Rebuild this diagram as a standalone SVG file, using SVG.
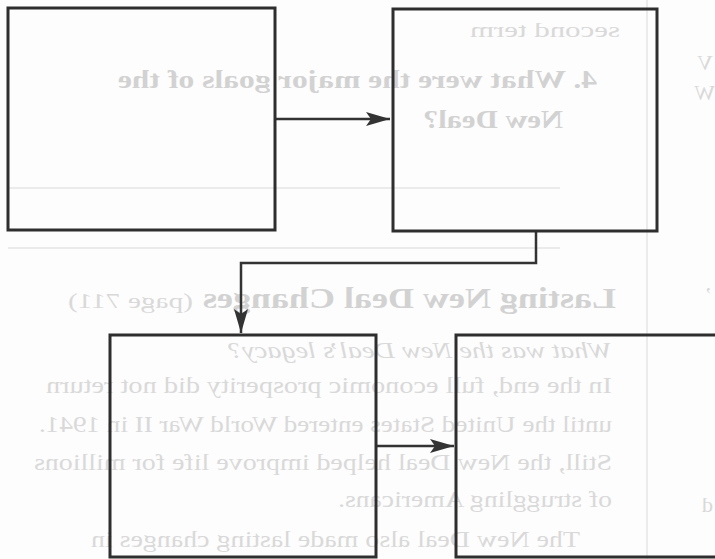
<svg xmlns="http://www.w3.org/2000/svg" width="715" height="559" viewBox="0 0 715 559">
<style>
.bg{font-family:"Liberation Serif","Times New Roman",serif;fill:#d9d9d9}
.bgb{font-family:"Liberation Serif","Times New Roman",serif;fill:#d2d2d2;font-weight:bold}
.rule{stroke:#ebebeb;stroke-width:2;fill:none}
.box{fill:none;stroke:#2e2e2e;stroke-width:3}
.conn{fill:none;stroke:#333;stroke-width:2.5}
</style>
<defs>
<marker id="ah" markerUnits="userSpaceOnUse" markerWidth="26" markerHeight="16" refX="24" refY="7" orient="auto">
<path d="M0,0 L24,7 L0,14 L5,7 z" fill="#333"/>
</marker>
</defs>
<rect width="715" height="559" fill="#fdfdfd"/>
<g id="bleed-through">
<line class="rule" x1="8" y1="188" x2="560" y2="188"/>
<line class="rule" x1="8" y1="248" x2="560" y2="248"/>
<line class="rule" x1="647" y1="0" x2="647" y2="559"/>
<g transform="matrix(-1 0 0 1 715 0)">
<text class="bg" x="95" y="37" font-size="22" textLength="150" lengthAdjust="spacingAndGlyphs">second term</text>
<text class="bgb" x="118" y="88" font-size="26" textLength="479" lengthAdjust="spacingAndGlyphs">4. What were the major goals of the</text>
<text class="bgb" x="152" y="128" font-size="26" textLength="140" lengthAdjust="spacingAndGlyphs">New Deal?</text>
<text class="bgb" x="99" y="308" font-size="29" textLength="413" lengthAdjust="spacingAndGlyphs">Lasting New Deal Changes</text>
<text class="bg" x="522" y="308" font-size="22" textLength="125" lengthAdjust="spacingAndGlyphs">(page 711)</text>
<text class="bg" x="103" y="358" font-size="24" font-style="italic" textLength="384" lengthAdjust="spacingAndGlyphs">What was the New Deal’s legacy?</text>
<text class="bg" x="103" y="393" font-size="24" textLength="566" lengthAdjust="spacingAndGlyphs">In the end, full economic prosperity did not return</text>
<text class="bg" x="103" y="432" font-size="24" textLength="573" lengthAdjust="spacingAndGlyphs">until the United States entered World War II in 1941.</text>
<text class="bg" x="103" y="470" font-size="24" textLength="578" lengthAdjust="spacingAndGlyphs">Still, the New Deal helped improve life for millions</text>
<text class="bg" x="103" y="507" font-size="24" textLength="274" lengthAdjust="spacingAndGlyphs">of struggling Americans.</text>
<text class="bg" x="135" y="547" font-size="24" textLength="489" lengthAdjust="spacingAndGlyphs">The New Deal also made lasting changes in</text>
<text class="bg" x="2" y="70" font-size="22">V</text>
<text class="bg" x="0" y="100" font-size="22">W</text>
<text class="bg" x="4" y="290" font-size="22">,</text>
<text class="bg" x="2" y="512" font-size="22">d</text>
</g>
</g>
<g id="connectors">
<line class="conn" x1="276" y1="119" x2="390" y2="119" marker-end="url(#ah)"/>
<polyline class="conn" points="536,232 536,263 241,263 241,333" marker-end="url(#ah)"/>
<line class="conn" x1="377" y1="446" x2="454" y2="446" marker-end="url(#ah)"/>
</g>
<g id="node1"><rect class="box" x="8" y="8" width="267" height="222"/></g>
<g id="node2"><rect class="box" x="393" y="9" width="264" height="222"/></g>
<g id="node3"><rect class="box" x="110" y="335" width="266" height="222"/></g>
<g id="node4"><rect class="box" x="456" y="335" width="270" height="222"/></g>
</svg>
